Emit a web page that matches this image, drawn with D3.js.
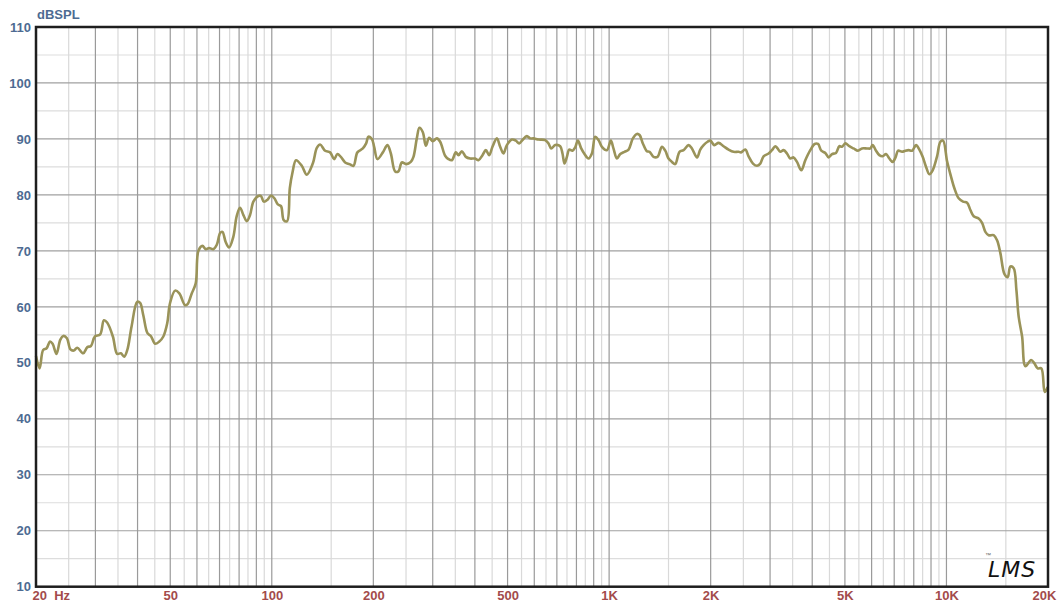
<!DOCTYPE html>
<html>
<head>
<meta charset="utf-8">
<script src="https://cdn.jsdelivr.net/npm/d3@7"></script>
<style>
  body { margin: 0; background: #fff; }
  svg { display: block; font-family: "Liberation Sans", Arial, sans-serif; }
</style>
</head>
<body>
<div id="chart"></div>
<script>
// frequency response
const freq = [20.0, 20.5, 21.0, 21.5, 22.0, 22.4, 23.0, 23.6, 24.1, 24.7, 25.3, 25.9, 26.5, 27.6, 28.4, 29.1, 29.9,
  31.0, 31.8, 32.5, 33.8, 34.8, 35.7, 36.5, 37.3, 38.4, 39.9, 40.7, 41.6, 42.8, 43.8, 45.1, 46.4, 47.7, 49.0, 49.9,
  51.7, 53.2, 55.3, 56.3, 57.9, 59.5, 60.6, 62.3, 63.7, 65.2, 67.1, 68.7, 70.3, 71.4, 73.0, 74.7, 76.9, 78.7, 80.5,
  82.4, 84.3, 86.2, 88.2, 91.2, 92.9, 94.7, 97.3, 99.5, 101.8, 104.2, 106.5, 108.5, 111.0, 113.1, 115.1, 118.0,
  122.7, 127.0, 132.3, 136.0, 139.1, 143.9, 148.9, 153.0, 156.5, 160.2, 165.0, 169.9, 174.6, 179.4, 186.2, 190.4,
  193.4, 198.0, 201.1, 205.7, 213.4, 220.2, 225.4, 232.1, 237.4, 242.9, 250.2, 258.3, 263.0, 269.1, 274.0, 280.4,
  286.2, 292.7, 300.2, 308.5, 315.6, 326.5, 334.0, 341.8, 351.3, 357.6, 366.0, 376.1, 387.3, 400.8, 409.9, 421.3,
  431.1, 441.0, 451.0, 464.8, 475.4, 486.2, 497.6, 514.9, 529.1, 541.2, 553.5, 570.4, 583.4, 596.7, 617.4, 646.3,
  661.1, 673.4, 692.0, 716.1, 727.4, 737.4, 749.6, 761.5, 778.8, 793.3, 808.1, 826.5, 845.3, 868.7, 889.1, 909.4,
  930.1, 951.9, 985.0, 1012, 1030, 1055, 1079, 1111, 1142, 1176, 1209, 1231, 1259, 1294, 1318, 1354, 1391, 1434,
  1467, 1500, 1535, 1570, 1617, 1662, 1720, 1760, 1822, 1863, 1906, 1958, 1995, 2050, 2111, 2184, 2260, 2338, 2420,
  2460, 2533, 2591, 2670, 2744, 2806, 2870, 2970, 3039, 3109, 3158, 3217, 3290, 3367, 3444, 3523, 3605, 3713, 3816,
  3948, 4066, 4161, 4256, 4374, 4474, 4579, 4705, 4813, 4902, 5014, 5153, 5306, 5468, 5620, 5815, 5948, 6042, 6184,
  6325, 6469, 6621, 6772, 6926, 7075, 7187, 7386, 7554, 7726, 7908, 8127, 8312, 8502, 8701, 8899, 9102, 9380, 9594,
  9772, 10043, 10293, 10556, 10870, 11202, 11512, 11775, 12043, 12460, 12753, 13043, 13340, 13803, 14127, 14450,
  14850, 15188, 15470, 15824, 16120, 16374, 16760, 17142, 17822, 18228, 18644, 19120, 19554, 19958];

const spl = [51.2, 49.0, 52.3, 52.6, 53.8, 53.4, 51.6, 54.1, 54.8, 54.4, 52.4, 52.2, 52.7, 51.7, 52.8, 53.0, 54.7,
  55.1, 57.6, 57.2, 54.7, 51.6, 51.7, 51.1, 52.3, 56.5, 60.9, 60.7, 58.5, 55.3, 54.8, 53.4, 53.8, 54.7, 57.1, 60.6,
  62.9, 62.4, 60.3, 60.5, 62.4, 64.2, 70.0, 70.9, 70.3, 70.5, 70.3, 71.1, 73.2, 73.4, 71.6, 70.6, 72.5, 76.2, 77.7,
  76.4, 75.3, 76.4, 78.8, 79.8, 79.8, 78.8, 79.2, 79.9, 79.4, 78.3, 78.0, 75.5, 75.3, 81.2, 83.9, 86.2,
  85.2, 83.6, 85.6, 88.4, 89.0, 87.9, 87.6, 86.4, 87.3, 86.8, 85.8, 85.5, 85.2, 87.6, 88.3, 89.2,
  90.4, 90.0, 88.6, 86.4, 87.6, 88.9, 87.4, 84.2, 84.2, 85.8, 85.5, 85.9, 86.8, 90.1, 92.0, 91.2,
  88.8, 90.2, 89.6, 90.1, 89.5, 87.0, 86.4, 86.2, 87.6, 87.1, 87.8, 86.8, 86.5, 86.5, 86.2, 87.1,
  88.0, 87.1, 88.6, 90.1, 88.6, 87.4, 88.9, 89.9, 89.7, 89.2, 89.8, 90.5, 90.1, 90.1, 89.9, 89.8,
  89.2, 88.3, 88.9, 88.7, 87.4, 85.6, 86.8, 88.1, 87.9, 88.5, 89.7, 88.3, 87.3, 86.5, 87.4, 90.4,
  89.8, 88.6, 88.0, 89.7, 88.3, 86.5, 87.3, 87.7, 88.1, 90.1, 90.9, 90.7, 89.2, 87.8, 87.7, 86.8, 86.8, 88.6,
  87.9, 86.5, 85.9, 85.5, 87.7, 88.0, 88.9, 88.3, 86.7, 88.1, 88.9, 89.5, 89.7, 88.9, 89.3, 88.7, 88.1, 87.7, 87.7,
  87.6, 88.1, 86.9, 85.6, 85.2, 85.6, 86.9, 87.4, 88.0, 88.7, 88.3, 87.7, 88.0, 87.4, 86.5, 86.7, 85.9, 84.4, 86.2,
  88.0, 89.1, 89.1, 87.9, 87.5, 86.7, 87.3, 87.5, 88.7, 88.6, 89.2, 88.7, 88.3, 87.9, 88.3, 88.3, 88.3, 88.9, 87.9,
  87.1, 86.9, 87.3, 86.5, 85.9, 86.8, 87.9, 87.7, 87.9, 88.0, 87.9, 88.9, 88.1, 86.8, 85.0, 83.7, 84.4, 86.9, 89.5,
  89.7, 86.0, 83.5, 81.2, 79.4, 78.8, 78.6, 77.3, 76.2, 75.8, 75.0, 73.4, 72.8, 72.8, 71.9, 69.6,
  65.9, 65.3, 67.2, 66.9, 63.0, 58.2, 54.7, 49.4, 50.5, 49.9, 49.0, 49.0, 44.8, 45.7];

const xTickValues = [20, 50, 100, 200, 500, 1000, 2000, 5000, 10000, 20000];
const xTickLabels = ["20  Hz", "50", "100", "200", "500", "1K", "2K", "5K", "10K", "20K"];
const yTickValues = [10, 20, 30, 40, 50, 60, 70, 80, 90, 100, 110];

const W = 1062, H = 605;
const margin = { top: 27, right: 14, bottom: 18.3, left: 36 };
const width = W - margin.left - margin.right;
const height = H - margin.top - margin.bottom;

const svg = d3.select("#chart").append("svg")
    .attr("width", W).attr("height", H);

const g = svg.append("g")
    .attr("transform", `translate(${margin.left},${margin.top})`);

const x = d3.scaleLog().domain([20, 20000]).range([0, width]);
const y = d3.scaleLinear().domain([10, 110]).range([height, 0]);

// grid: every 5 / 50 / 500 / 5000 Hz, darker on the round ones
let gridMajor = [], gridMinor = [];
[10, 100, 1000, 10000].forEach(dec => {
    for (let m = 1; m <= 9.5; m += 0.5) {
        const f = m * dec;
        if (f <= 20 || f >= 20000) continue;
        (m % 1 === 0 ? gridMajor : gridMinor).push(f);
    }
});
const hMinor = d3.range(15, 110, 10);
const hMajor = d3.range(20, 110, 10);

g.append("g").selectAll("line").data(hMinor).join("line")
    .attr("x1", 0).attr("x2", width)
    .attr("y1", d => y(d)).attr("y2", d => y(d))
    .attr("stroke", "#dddddd").attr("stroke-width", 1.2);

g.append("g").selectAll("line").data(gridMinor).join("line")
    .attr("x1", d => x(d)).attr("x2", d => x(d))
    .attr("y1", 0).attr("y2", height)
    .attr("stroke", "#d9d9d9").attr("stroke-width", 1.2);

g.append("g").selectAll("line").data(hMajor).join("line")
    .attr("x1", 0).attr("x2", width)
    .attr("y1", d => y(d)).attr("y2", d => y(d))
    .attr("stroke", "#a0a0a0").attr("stroke-width", 1.2);

g.append("g").selectAll("line").data(gridMajor).join("line")
    .attr("x1", d => x(d)).attr("x2", d => x(d))
    .attr("y1", 0).attr("y2", height)
    .attr("stroke", "#9a9a9a").attr("stroke-width", 1.2);

// response curve
const line = d3.line()
    .x(d => x(d[0]))
    .y(d => y(d[1]))
    .curve(d3.curveCatmullRom);

g.append("path")
    .datum(d3.zip(freq, spl))
    .attr("fill", "none")
    .attr("stroke", "#9a9359")
    .attr("stroke-width", 2.6)
    .attr("stroke-linejoin", "round")
    .attr("d", line);

// frame
g.append("rect")
    .attr("width", width).attr("height", height)
    .attr("fill", "none")
    .attr("stroke", "#1e1e1e")
    .attr("stroke-width", 2.5);

// axes
const xAxis = d3.axisBottom(x).tickValues(xTickValues)
    .tickFormat((d, i) => xTickLabels[i]).tickSize(0).tickPadding(4);

g.append("g")
    .attr("transform", `translate(0,${height})`)
    .call(xAxis)
    .call(a => a.select(".domain").remove())
    .call(a => a.selectAll("text")
        .attr("fill", "#a34b4b")
        .style("font-size", "13px")
        .style("font-weight", "bold")
        .style("font-family", "Liberation Sans, Arial, sans-serif")
        .style("white-space", "pre"))
    .call(a => a.select(".tick text").attr("text-anchor", "start").attr("x", -4))
    .call(a => a.select(".tick:last-of-type text").attr("x", -4));

const yAxis = d3.axisLeft(y).tickValues(yTickValues).tickSize(0).tickPadding(5);

g.append("g")
    .call(yAxis)
    .call(a => a.select(".domain").remove())
    .call(a => a.selectAll("text")
        .attr("fill", "#4d6b92")
        .style("font-size", "13px")
        .style("font-weight", "bold")
        .style("font-family", "Liberation Sans, Arial, sans-serif"));

svg.append("text")
    .attr("x", margin.left + 1)
    .attr("y", 19)
    .text("dBSPL")
    .attr("fill", "#4d6b92")
    .style("font-size", "13px")
    .style("font-weight", "bold");

// LMS mark
svg.append("text")
    .attr("x", 988).attr("y", 577)
    .text("LMS")
    .attr("fill", "#111")
    .style("font-family", "DejaVu Sans, sans-serif")
    .style("font-style", "italic")
    .style("font-size", "22px")
    .style("letter-spacing", "1px");

svg.append("text")
    .attr("x", 985).attr("y", 557)
    .text("™")
    .attr("fill", "#666")
    .style("font-size", "6px");
</script>
</body>
</html>
